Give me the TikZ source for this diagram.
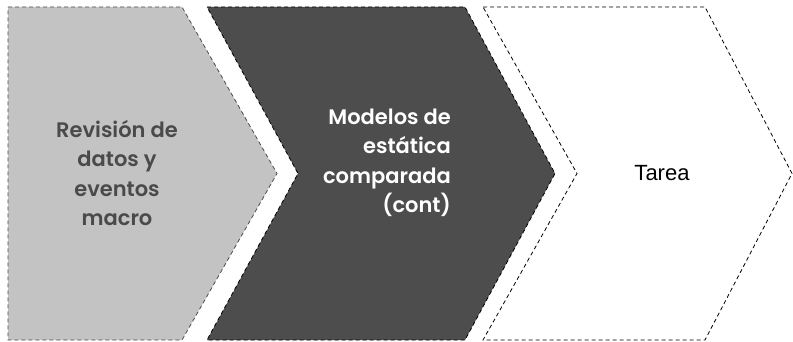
\documentclass[tikz,border=0pt]{standalone}
\usepackage{fontspec}
\setmainfont{Poppins}[BoldFont={Poppins SemiBold}]
\newfontfamily\tareafont{Liberation Sans}
\definecolor{lightfill}{HTML}{C3C3C3}
\definecolor{darkfill}{HTML}{4D4D4D}
\definecolor{darktext}{HTML}{4A4A4A}
\begin{document}
\begin{tikzpicture}[x=1pt,y=1pt,
  chev/.style={draw=black, dashed, dash pattern=on 4pt off 3pt, line width=0.8pt},
  lbl/.style={font=\bfseries\fontsize{21}{29.5}\selectfont, inner sep=0pt}]
\useasboundingbox (0,0) rectangle (793,341);
\fill[white] (0,0) rectangle (793,341);
% shape 1
\path[chev, fill=lightfill, draw=black!70] (8,334) -- (182,334) -- (277,167.5) -- (182,1) -- (8,1) -- cycle;
% shape 2
\path[chev, fill=darkfill] (207,334) -- (465,334) -- (555,167.5) -- (465,1) -- (207,1) -- (298,167.5) -- cycle;
% shape 3
\path[chev, fill=white] (483,334) -- (705,334) -- (792,167.5) -- (705,1) -- (483,1) -- (577,167.5) -- cycle;
\node[lbl, text=darktext, align=center] (t1) at (117,168) {Revisión de\\datos y\\eventos\\macro};
\node[lbl, text=white, align=right, anchor=east] (t2) at (451,178) {Modelos de\\estática\\comparada\\(cont)};
\node[inner sep=0pt, font=\tareafont\fontsize{22}{26}\selectfont] (t3) at (662,168) {Tarea};
\end{tikzpicture}
\end{document}
